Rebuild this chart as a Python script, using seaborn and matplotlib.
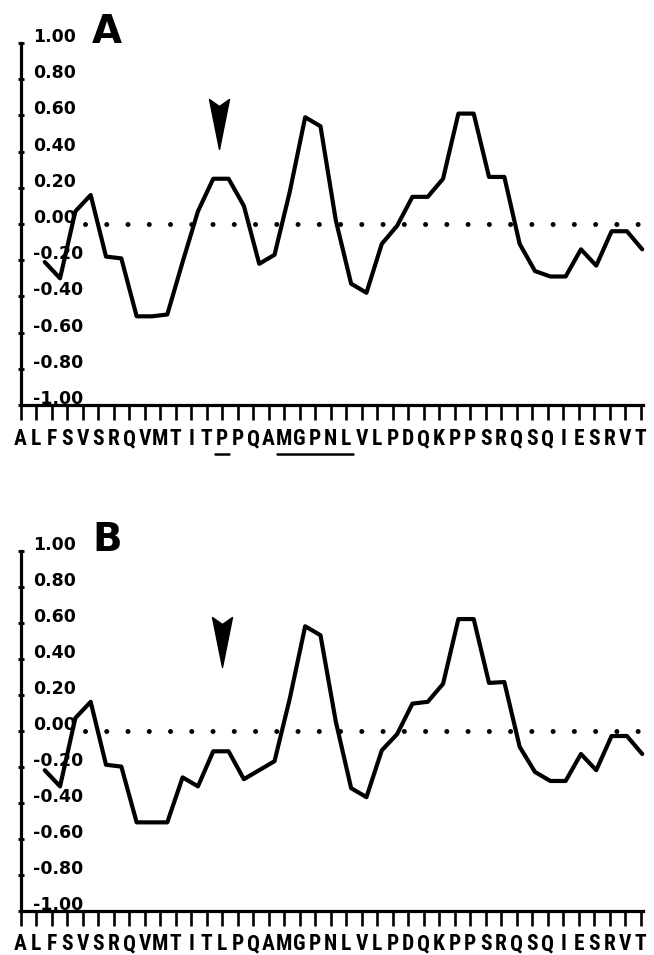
import numpy as np
import pandas as pd
import matplotlib
matplotlib.use('Agg')
import matplotlib.pyplot as plt
import matplotlib.transforms as mtrans
from matplotlib.path import Path
import seaborn as sns

# sequences under the x axis (one residue per tick)
seq_a = "ALFSVSRQVMTITPPQAMGPNLVLPDQKPPSRQSQIESRVT"
seq_b = "ALFSVSRQVMTITLPQAMGPNLVLPDQKPPSRQSQIESRVT"

# hydrophilicity profile (one value per window)
window_pos = np.linspace(2.55, 41.1, 40)
hydro_a = [-0.21, -0.30, 0.07, 0.16, -0.18, -0.19, -0.51, -0.51, -0.50, -0.21,
           0.07, 0.25, 0.25, 0.10, -0.22, -0.17, 0.18, 0.59, 0.54, 0.02,
           -0.33, -0.38, -0.11, -0.01, 0.15, 0.15, 0.25, 0.61, 0.61, 0.26,
           0.26, -0.11, -0.26, -0.29, -0.29, -0.14, -0.23, -0.04, -0.04, -0.14]
hydro_b = [-0.22, -0.31, 0.07, 0.16, -0.19, -0.20, -0.51, -0.51, -0.51, -0.26,
           -0.31, -0.115, -0.115, -0.27, -0.22, -0.17, 0.18, 0.58, 0.53, 0.05,
           -0.32, -0.37, -0.11, -0.02, 0.15, 0.16, 0.26, 0.62, 0.62, 0.265,
           0.27, -0.09, -0.23, -0.28, -0.28, -0.13, -0.22, -0.03, -0.03, -0.13]

yticks = [1.0, 0.8, 0.6, 0.4, 0.2, 0.0, -0.2, -0.4, -0.6, -0.8, -1.0]
ytick_labels = ["1.00", "0.80", "0.60", "0.40", "0.20", "0.00",
                "-0.20", "-0.40", "-0.60", "-0.80", "-1.00"]

# arrowhead (residue position, height) and underlined residue ranges
arrow_a = (13.8, 0.555)
arrow_b = (14.0, 0.495)
underline_a = [(14, 14), (18, 22)]
underline_b = []

sns.set_style('white')
plt.rcParams['font.family'] = ['DejaVu Sans']
plt.rcParams['text.color'] = 'black'
plt.rcParams['xtick.color'] = 'black'
plt.rcParams['ytick.color'] = 'black'
plt.rcParams['axes.edgecolor'] = 'black'

W, H = 654, 955
fig = plt.figure(figsize=(W / 100, H / 100), dpi=100)

arrow_path = Path([(-0.2, 0.5), (0, 0.36), (0.2, 0.5), (0.03, -0.35), (0, -0.5),
                   (-0.03, -0.35), (-0.2, 0.5)],
                  [Path.MOVETO] + [Path.LINETO] * 5 + [Path.CLOSEPOLY])


def panel(top, bottom, seq, vals, letter, arrow, underlines):
    left, right = 20.7, 643
    ax = fig.add_axes([left / W, 1 - bottom / H, (right - left) / W, (bottom - top) / H])
    df = pd.DataFrame({'pos': window_pos, 'val': vals})
    sns.lineplot(data=df, x='pos', y='val', ax=ax, color='black', linewidth=3.0,
                 estimator=None, sort=False, clip_on=False)
    ax.axhline(0, xmin=(85 - left) / (right - left), xmax=1, color='black', lw=3.6,
               linestyle=(0, (0.001, 4.25)), dash_capstyle='round')
    ax.plot([arrow[0]], [arrow[1]], marker=arrow_path, markersize=36,
            color='black', linestyle='none')

    ax.set_xlim(1, 41.15)
    ax.set_ylim(-1, 1)
    ax.set_xlabel('')
    ax.set_ylabel('')
    for s in ['top', 'right']:
        ax.spines[s].set_visible(False)
    for s in ['left', 'bottom']:
        ax.spines[s].set_linewidth(2.3)

    ax.set_xticks(range(1, len(seq) + 1))
    ax.set_xticklabels(list(seq), family=['Roboto Condensed', 'Liberation Sans', 'DejaVu Sans'],
                       fontweight='bold', fontsize=15.5)
    ax.tick_params(axis='x', direction='out', length=10.5, width=1.9, pad=6, bottom=True)
    ax.set_yticks(yticks)
    ax.set_yticklabels([])
    ax.tick_params(axis='y', direction='inout', length=5, width=2, left=True)

    off = mtrans.ScaledTranslation(0.125, 0.06, fig.dpi_scale_trans)
    for v, lab in zip(yticks, ytick_labels):
        ax.text(0, v, lab, transform=ax.get_yaxis_transform() + off,
                ha='left', va='center', fontsize=12.5, fontweight='bold')

    ax.text((92 - left) / (right - left), 1.0, letter, transform=ax.transAxes,
            ha='left', va='baseline', fontsize=28, fontweight='bold')

    ul = mtrans.blended_transform_factory(ax.transData, ax.transAxes)
    yu = -49 / (bottom - top)
    for s, e in underlines:
        ax.plot([s - 0.45, e + 0.45], [yu, yu], transform=ul, color='black',
                lw=1.8, clip_on=False)
    return ax


panel(43, 405, seq_a, hydro_a, 'A', arrow_a, underline_a)
panel(550.7, 910.5, seq_b, hydro_b, 'B', arrow_b, underline_b)

fig.savefig('out.png', dpi=100)
